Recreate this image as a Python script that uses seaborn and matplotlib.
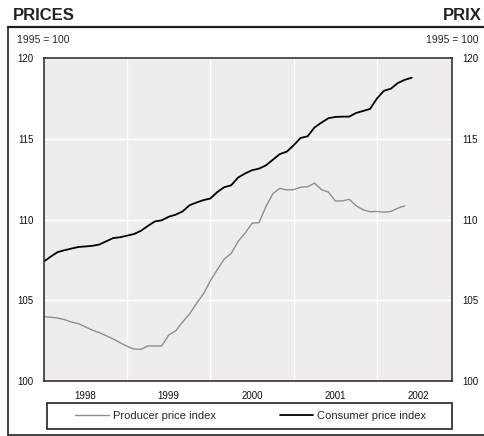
import numpy as np
import pandas as pd
import matplotlib.pyplot as plt
import seaborn as sns
from matplotlib.lines import Line2D

# monthly index values, Jan 1998 onwards (1995 = 100)
consumer = [107.39, 107.7, 107.98, 108.1, 108.2, 108.3, 108.33, 108.37, 108.45, 108.65,
            108.85, 108.9, 109.0, 109.1, 109.3, 109.6, 109.88, 109.95, 110.17, 110.3,
            110.5, 110.88, 111.05, 111.2, 111.3, 111.7, 112.0, 112.12, 112.6, 112.85,
            113.05, 113.15, 113.35, 113.7, 114.05, 114.2, 114.6, 115.05, 115.15, 115.7,
            116.0, 116.27, 116.35, 116.37, 116.37, 116.6, 116.72, 116.85, 117.5, 117.97,
            118.1, 118.45, 118.65, 118.78]
producer = [103.98, 103.95, 103.9, 103.8, 103.65, 103.55, 103.35, 103.15, 103.0, 102.8,
            102.6, 102.37, 102.15, 101.98, 101.96, 102.17, 102.17, 102.17, 102.85, 103.1,
            103.65, 104.15, 104.8, 105.4, 106.2, 106.9, 107.55, 107.9, 108.65, 109.15,
            109.77, 109.8, 110.8, 111.6, 111.93, 111.83, 111.85, 112.0, 112.03, 112.25,
            111.85, 111.7, 111.15, 111.15, 111.25, 110.85, 110.6, 110.48, 110.5, 110.45,
            110.5, 110.7, 110.85]
year_labels = ["1998", "1999", "2000", "2001", "2002"]
y_ticks = [100, 105, 110, 115, 120]

months = pd.date_range("1998-01-01", periods=len(consumer), freq="MS")
t = months.year + (months.month - 1) / 12
cpi = pd.DataFrame({"t": t, "value": consumer})
ppi = pd.DataFrame({"t": t[:len(producer)], "value": producer})

sns.set_style("darkgrid", {"axes.facecolor": "#efebef", "grid.color": "white",
                           "axes.edgecolor": "#333333"})
plt.rcParams["font.family"] = ["Liberation Sans", "DejaVu Sans"]

W, H = 484, 436
fig = plt.figure(figsize=(W / 100, H / 100), dpi=100)
ax = fig.add_axes([43.7 / W, 1 - 381 / H, (452 - 43.7) / W, (381 - 58) / H])

sns.lineplot(data=ppi, x="t", y="value", color="#8f8f8f", lw=1.0, ax=ax)
sns.lineplot(data=cpi, x="t", y="value", color="black", lw=1.3, ax=ax)

ax.set_xlim(1998, 1998 + (452 - 43.7) / 83.33)
ax.set_ylim(100, 120)
ax.set_yticks(y_ticks)
ax.set_xticks([1999, 2000, 2001, 2002])
ax.set_xticklabels([])
ax.set_xticks([1998.5 + i for i in range(5)], minor=True)
ax.set_xticklabels(year_labels, minor=True)
ax.grid(which="major", color="white", lw=1.0)
ax.grid(which="minor", visible=False)
ax.tick_params(axis="x", which="both", length=0, labelsize=7, pad=7, colors="#111111")
ax.tick_params(axis="y", length=0, labelsize=7, labelleft=True, labelright=True, pad=7.5,
               colors="#111111")
ax.set_xlabel("")
ax.set_ylabel("")
for s in ax.spines.values():
    s.set_color("#333333")
    s.set_linewidth(1.2)

# titles and base notes
fig.text(13 / W, 1 - 15 / H, "PRICES", fontsize=12, fontweight="bold", va="center",
         color="#222222")
fig.text(482 / W, 1 - 15 / H, "PRIX", fontsize=12, fontweight="bold", va="center",
         ha="right", color="#222222")
fig.text(17 / W, 1 - 40 / H, "1995 = 100", fontsize=7.5, va="center")
fig.text(478 / W, 1 - 40 / H, "1995 = 100", fontsize=7.5, va="center", ha="right")

# outer frame
fig.add_artist(Line2D([8 / W, 1], [1 - 27 / H, 1 - 27 / H], color="#222222", lw=1.6))
fig.add_artist(Line2D([8 / W, 8 / W], [1 - 27 / H, 1 - 435 / H], color="#222222", lw=1.2))
fig.add_artist(Line2D([8 / W, 1], [1 - 435 / H, 1 - 435 / H], color="#222222", lw=1.2))

# legend box
fig.add_artist(plt.Rectangle((47 / W, 1 - 429 / H), (452 - 47) / W, 26 / H,
                             transform=fig.transFigure, fill=False, ec="#222222", lw=1.2))
handles = [Line2D([], [], color="#8f8f8f", lw=1.0), Line2D([], [], color="black", lw=1.3)]
fig.legend(handles, ["Producer price index", "Consumer price index"], ncol=2,
           loc="center", bbox_to_anchor=(251 / W, 1 - 416 / H), frameon=False,
           fontsize=8, handlelength=3.0, handletextpad=0.4, columnspacing=5.7)

fig.savefig("out.png", dpi=100)
